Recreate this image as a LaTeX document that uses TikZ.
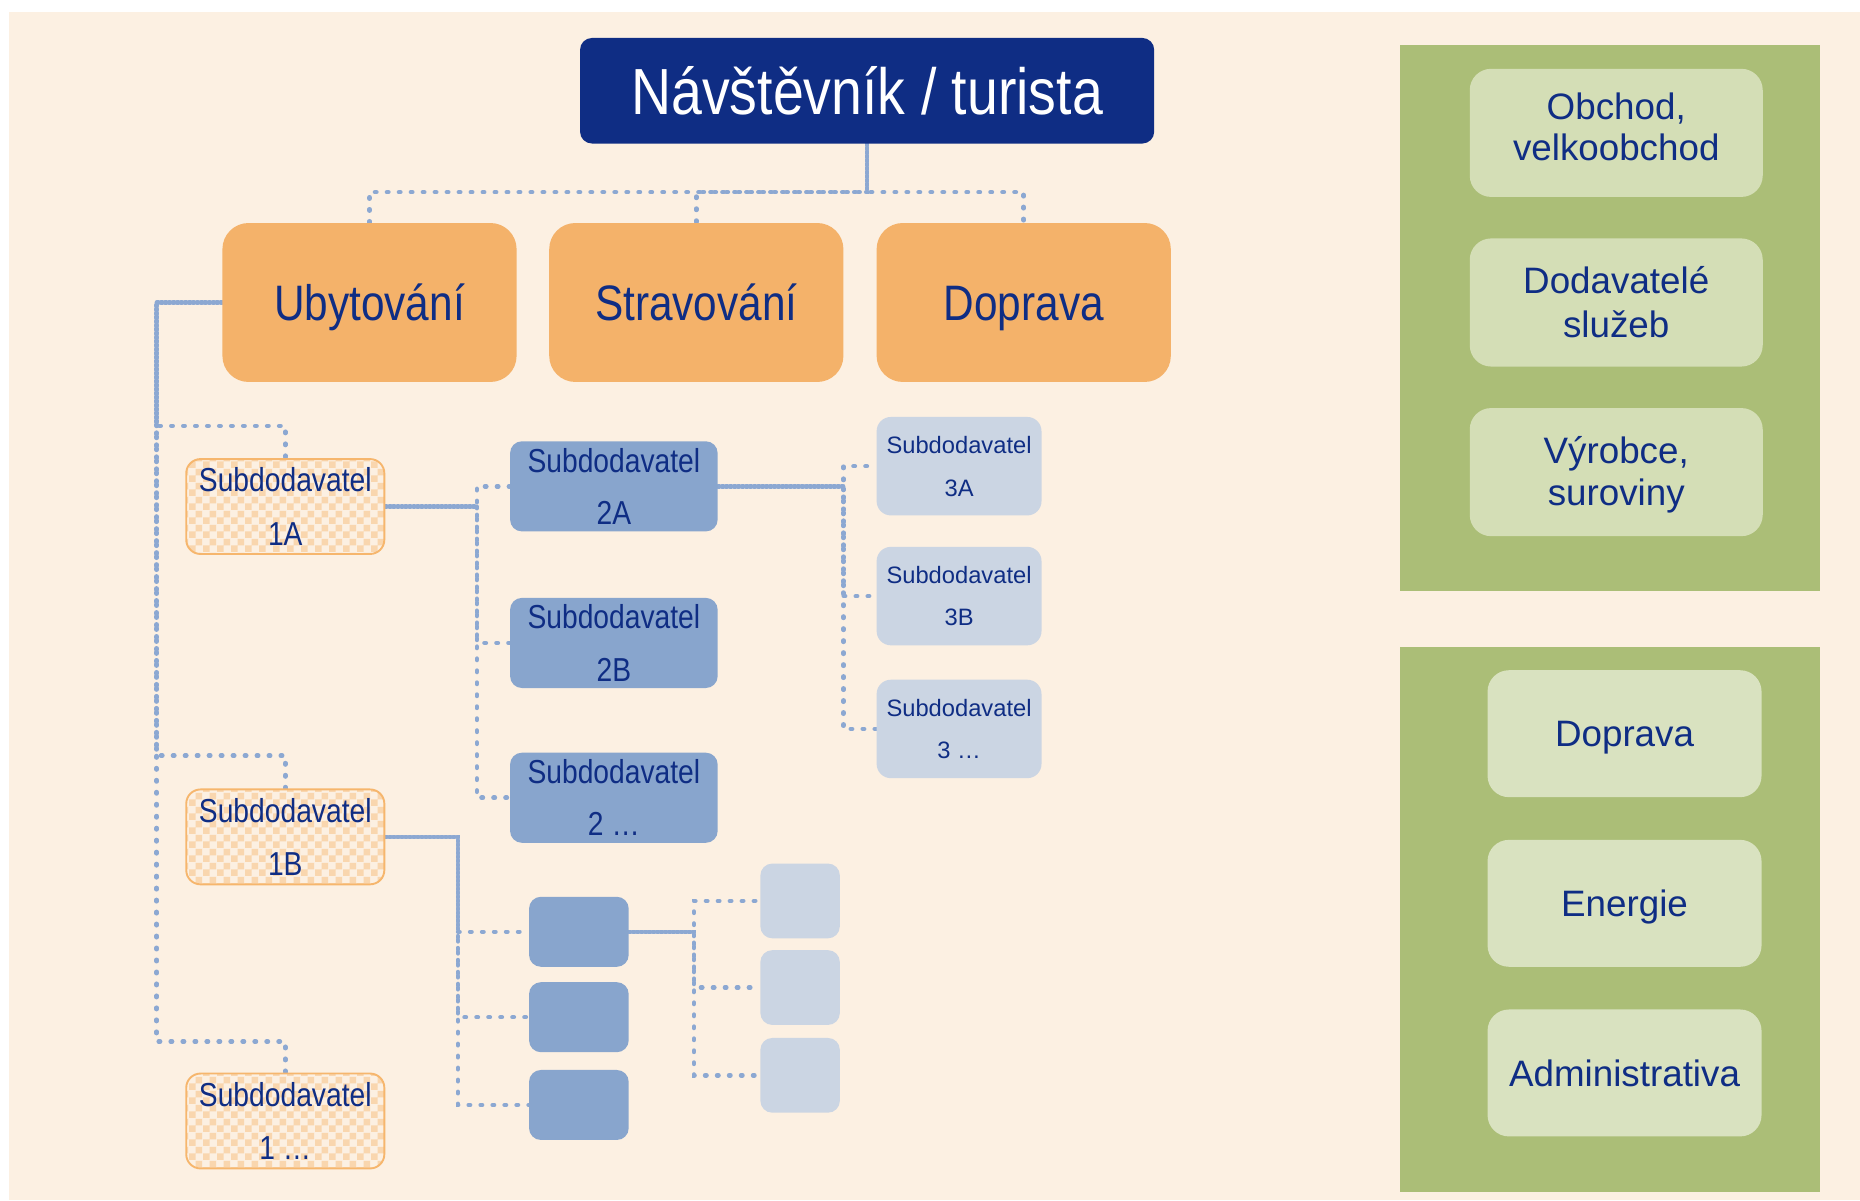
\documentclass[tikz,border=0pt]{standalone}
\usepackage{fontspec}
\setmainfont{Liberation Sans}
\newfontfamily\narrowf[FakeStretch=0.85]{Liberation Sans}
\usetikzlibrary{patterns,calc}
\definecolor{cream}{HTML}{FCF0E2}
\definecolor{navy}{HTML}{0F2D84}
\definecolor{orangebox}{HTML}{F4B26A}
\definecolor{orangeline}{HTML}{F6B66D}
\definecolor{chk}{HTML}{F9D6AE}
\definecolor{midblue}{HTML}{88A5CD}
\definecolor{lightblue}{HTML}{CBD5E3}
\definecolor{panelgreen}{HTML}{ABBE77}
\definecolor{lgreenA}{HTML}{D4DEB6}
\definecolor{lgreenB}{HTML}{D9E2C0}
\definecolor{dotc}{HTML}{8CA8D2}
\pgfdeclarelayer{back}
\pgfdeclarelayer{conn}
\pgfsetlayers{back,conn,main}
\tikzset{
  basebox/.style={rounded corners=#1, inner sep=0pt, align=center, text=navy},
  topbox/.style={basebox=10pt, fill=navy, text=white, minimum width=484pt, minimum height=89pt,
    font=\narrowf\fontsize{55}{60}\selectfont, text height=39.4pt, text depth=0pt},
  catbox/.style={basebox=22pt, fill=orangebox, minimum width=248pt, minimum height=134pt,
    font=\narrowf\fontsize{42}{50}\selectfont, text height=30pt, text depth=0pt},
  subone/.style={basebox=12pt, draw=orangeline, line width=1.6pt, preaction={fill=cream},
    pattern=checkerboard, pattern color=chk, minimum width=167pt, minimum height=80pt,
    font=\narrowf\fontsize{28}{45}\selectfont},
  subtwo/.style={basebox=10pt, fill=midblue, minimum width=175pt, minimum height=76pt,
    font=\narrowf\fontsize{28}{44}\selectfont},
  subthree/.style={basebox=12pt, fill=lightblue, minimum width=139pt, minimum height=83pt,
    font=\fontsize{20}{36}\selectfont},
  smallmid/.style={basebox=10pt, fill=midblue, minimum width=84pt, minimum height=59pt},
  smalllight/.style={basebox=10pt, fill=lightblue, minimum width=67pt, minimum height=63pt},
  rboxA/.style={basebox=18pt, fill=lgreenA, minimum width=247pt, minimum height=108pt,
    font=\fontsize{31}{35}\selectfont, text height=57.2pt, text depth=0pt},
  rboxB/.style={basebox=18pt, fill=lgreenB, minimum width=231pt, minimum height=107pt,
    font=\fontsize{31}{35}\selectfont, text height=22.2pt, text depth=0pt},
  conn/.style={draw=dotc, line width=3.8pt, line cap=round, dash pattern=on 1.2pt off 8.9pt},
  phB/.style={dash phase=3.4pt},
  phC/.style={dash phase=6.7pt}
}
\begin{document}
\begin{tikzpicture}[x=1pt,y=-1pt]
\useasboundingbox (0,0) rectangle (1568,1012);
\begin{pgfonlayer}{back}
\fill[white] (0,0) rectangle (1568,1012);
\fill[cream] (7.6,10.1) rectangle (1568,1012);
\fill[panelgreen] (1180,38) rectangle (1534,498);
\fill[panelgreen] (1180,545) rectangle (1534,1005);
\end{pgfonlayer}

% main nodes
\node[topbox] (top) at (731,76.5) {Návštěvník / turista};
\node[catbox] (ub) at (311.5,255) {Ubytování};
\node[catbox] (st) at (587,255) {Stravování};
\node[catbox] (dp) at (863,255) {Doprava};

\node[subone] (s1a) at (240.5,427) {Subdodavatel\\1A};
\node[subone] (s1b) at (240.5,705.5) {Subdodavatel\\1B};
\node[subone] (s1c) at (240.5,945) {Subdodavatel\\1 …};

\node[subtwo] (s2a) at (517.5,410) {Subdodavatel\\2A};
\node[subtwo] (s2b) at (517.5,542) {Subdodavatel\\2B};
\node[subtwo] (s2c) at (517.5,672.5) {Subdodavatel\\2 …};

\node[subthree] (s3a) at (808.5,393) {Subdodavatel\\3A};
\node[subthree] (s3b) at (808.5,502.5) {Subdodavatel\\3B};
\node[subthree] (s3c) at (808.5,614.5) {Subdodavatel\\3 …};

\node[smallmid] (e1) at (488,785.5) {};
\node[smallmid] (e2) at (488,857.5) {};
\node[smallmid] (e3) at (488,931.5) {};

\node[smalllight] (f1) at (674.5,759.5) {};
\node[smalllight] (f2) at (674.5,832.5) {};
\node[smalllight] (f3) at (674.5,906.5) {};

% right panels
\node[rboxA, text depth=10pt] (r1) at (1362.5,112) {Obchod,\\velkoobchod};
\node[rboxA, font=\fontsize{31}{37}\selectfont, text height=59.2pt] (r2) at (1362.5,255) {Dodavatelé\\služeb};
\node[rboxA, text depth=1pt] (r3) at (1362.5,398) {Výrobce,\\suroviny};
\node[rboxB] (r4) at (1369.5,618.5) {Doprava};
\node[rboxB] (r5) at (1369.5,761.5) {Energie};
\node[rboxB] (r6) at (1369.5,904.5) {Administrativa};

% connector junctions
\coordinate (bus) at (731,162);
\coordinate (ubL) at (132,255);
\coordinate (k1a) at (132,359);
\coordinate (k1b) at (132,637);
\coordinate (k1c) at (132,878);
\coordinate (j1) at (402,427);
\coordinate (j2) at (711,410);
\coordinate (j3) at (386,705.5);
\coordinate (j4) at (585,785.5);

\begin{pgfonlayer}{conn}
\draw[conn] (top.south) -- (bus) -| (ub.north);
\draw[conn,phB] (top.south) -- (bus) -| (st.north);
\draw[conn,phC] (top.south) -- (bus) -| (dp.north);

\draw[conn] (ub.west) -- (ubL) -- (k1a) -| (s1a.north);
\draw[conn,phB] (ub.west) -- (ubL) -- (k1b) -| (s1b.north);
\draw[conn,phC] (ub.west) -- (ubL) -- (k1c) -| (s1c.north);

\draw[conn] (s1a.east) -- (j1) |- (s2a.west);
\draw[conn,phB] (s1a.east) -- (j1) |- (s2b.west);
\draw[conn,phC] (s1a.east) -- (j1) |- (s2c.west);

\draw[conn] (s2a.east) -- (j2) |- (s3a.west);
\draw[conn,phB] (s2a.east) -- (j2) |- (s3b.west);
\draw[conn,phC] (s2a.east) -- (j2) |- (s3c.west);

\draw[conn] (s1b.east) -- (j3) |- (e1.west);
\draw[conn,phB] (s1b.east) -- (j3) |- (e2.west);
\draw[conn,phC] (s1b.east) -- (j3) |- (e3.west);

\draw[conn] (e1.east) -- (j4) |- (f1.west);
\draw[conn,phB] (e1.east) -- (j4) |- (f2.west);
\draw[conn,phC] (e1.east) -- (j4) |- (f3.west);
\end{pgfonlayer}
\end{tikzpicture}
\end{document}
